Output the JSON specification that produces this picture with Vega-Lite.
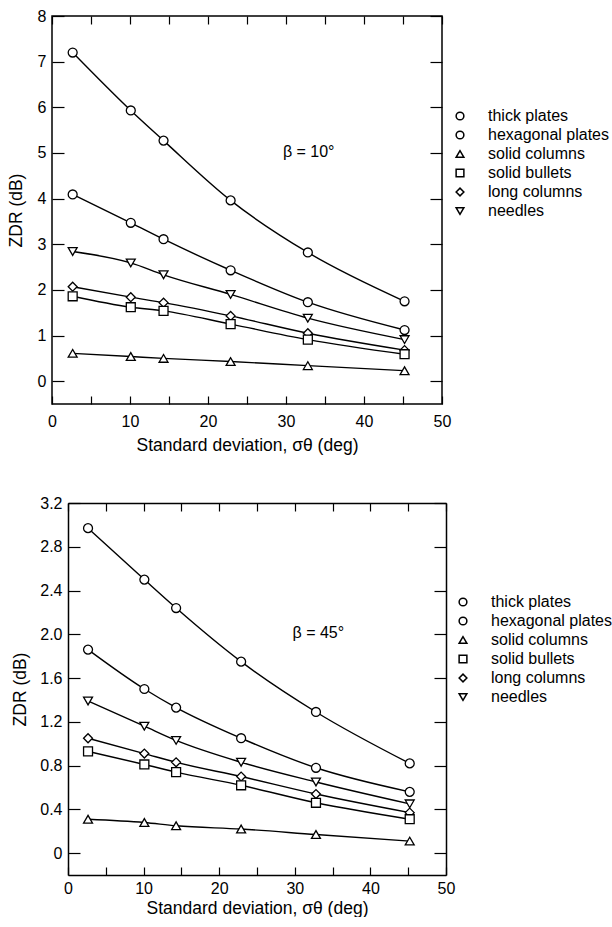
{
  "$schema": "https://vega.github.io/schema/vega-lite/v6.json",
  "padding": {"left": 6, "top": 7, "right": 0, "bottom": 0},
  "autosize": {"type": "pad"},
  "config": {
    "font": "Liberation Sans",
    "view": {"stroke": "black", "strokeWidth": 1.5},
    "axis": {"domain": false, "grid": false, "tickColor": "black", "tickWidth": 1.2, "labelColor": "black", "titleColor": "black", "labelFontSize": 16, "titleFontSize": 17.5, "titleFontWeight": "normal", "labelFlush": false, "labelOverlap": false},
    "legend": {"labelFontSize": 16, "labelColor": "black", "rowPadding": 3, "labelOffset": 20, "padding": 0},
    "text": {"color": "black"}
  },
  "concat": [
    {
      "width": 390,
      "height": 388,
      "data": {"values": [
        {"crystal": "thick plates", "sigma": 2.65, "zdr": 7.20},
        {"crystal": "thick plates", "sigma": 10.1, "zdr": 5.93},
        {"crystal": "thick plates", "sigma": 14.3, "zdr": 5.27},
        {"crystal": "thick plates", "sigma": 22.9, "zdr": 3.96},
        {"crystal": "thick plates", "sigma": 32.8, "zdr": 2.82},
        {"crystal": "thick plates", "sigma": 45.2, "zdr": 1.75},
        {"crystal": "hexagonal plates", "sigma": 2.65, "zdr": 4.09},
        {"crystal": "hexagonal plates", "sigma": 10.1, "zdr": 3.47},
        {"crystal": "hexagonal plates", "sigma": 14.3, "zdr": 3.11},
        {"crystal": "hexagonal plates", "sigma": 22.9, "zdr": 2.43},
        {"crystal": "hexagonal plates", "sigma": 32.8, "zdr": 1.73},
        {"crystal": "hexagonal plates", "sigma": 45.2, "zdr": 1.12},
        {"crystal": "needles", "sigma": 2.65, "zdr": 2.84},
        {"crystal": "needles", "sigma": 10.1, "zdr": 2.59},
        {"crystal": "needles", "sigma": 14.3, "zdr": 2.33},
        {"crystal": "needles", "sigma": 22.9, "zdr": 1.90},
        {"crystal": "needles", "sigma": 32.8, "zdr": 1.38},
        {"crystal": "needles", "sigma": 45.2, "zdr": 0.91},
        {"crystal": "long columns", "sigma": 2.65, "zdr": 2.07},
        {"crystal": "long columns", "sigma": 10.1, "zdr": 1.84},
        {"crystal": "long columns", "sigma": 14.3, "zdr": 1.72},
        {"crystal": "long columns", "sigma": 22.9, "zdr": 1.43},
        {"crystal": "long columns", "sigma": 32.8, "zdr": 1.05},
        {"crystal": "long columns", "sigma": 45.2, "zdr": 0.68},
        {"crystal": "solid bullets", "sigma": 2.65, "zdr": 1.86},
        {"crystal": "solid bullets", "sigma": 10.1, "zdr": 1.62},
        {"crystal": "solid bullets", "sigma": 14.3, "zdr": 1.54},
        {"crystal": "solid bullets", "sigma": 22.9, "zdr": 1.25},
        {"crystal": "solid bullets", "sigma": 32.8, "zdr": 0.91},
        {"crystal": "solid bullets", "sigma": 45.2, "zdr": 0.59},
        {"crystal": "solid columns", "sigma": 2.65, "zdr": 0.61},
        {"crystal": "solid columns", "sigma": 10.1, "zdr": 0.54},
        {"crystal": "solid columns", "sigma": 14.3, "zdr": 0.50},
        {"crystal": "solid columns", "sigma": 22.9, "zdr": 0.43},
        {"crystal": "solid columns", "sigma": 32.8, "zdr": 0.34},
        {"crystal": "solid columns", "sigma": 45.2, "zdr": 0.23}
      ]},
      "layer": [
        {
          "mark": {"type": "line", "interpolate": "monotone", "color": "black", "strokeWidth": 1.4},
          "encoding": {
            "x": {"field": "sigma", "type": "quantitative", "scale": {"domain": [0, 50], "nice": false},
              "axis": {"orient": "bottom", "values": [0, 5, 10, 15, 20, 25, 30, 35, 40, 45, 50], "labelExpr": "datum.value % 10 == 0 ? datum.label : ''", "tickSize": -8, "labelPadding": 17, "title": "Standard deviation, σθ (deg)", "titlePadding": 7}},
            "y": {"field": "zdr", "type": "quantitative", "scale": {"domain": [-0.5, 8], "nice": false, "zero": false},
              "axis": {"orient": "left", "values": [0, 1, 2, 3, 4, 5, 6, 7, 8], "tickSize": -12, "labelPadding": 18, "title": "ZDR (dB)", "titlePadding": 12}},
            "detail": {"field": "crystal"}
          }
        },
        {
          "mark": {"type": "point", "filled": true, "color": "white", "stroke": "black", "strokeWidth": 1.3, "size": 80, "opacity": 1},
          "encoding": {
            "x": {"field": "sigma", "type": "quantitative",
              "axis": {"orient": "top", "values": [0, 5, 10, 15, 20, 25, 30, 35, 40, 45, 50], "labels": false, "title": null, "tickSize": -8}},
            "y": {"field": "zdr", "type": "quantitative",
              "axis": {"orient": "right", "values": [0, 1, 2, 3, 4, 5, 6, 7, 8], "labels": false, "title": null, "tickSize": -12}},
            "shape": {"field": "crystal", "type": "nominal",
              "scale": {"domain": ["thick plates", "hexagonal plates", "solid columns", "solid bullets", "long columns", "needles"], "range": ["circle", "circle", "triangle-up", "square", "diamond", "triangle-down"]},
              "legend": {"orient": "none", "legendX": 400, "legendY": 92, "title": null, "symbolSize": 60,
                "encode": {"symbols": {"update": {"size": {"value": 60}, "stroke": {"value": "black"}, "fill": {"value": "white"}, "opacity": {"value": 1}, "strokeWidth": {"value": 2}, "x": {"value": 10}}}}}}
          }
        },
        {
          "data": {"values": [{"sigma": 29.6, "zdr": 5.03, "label": "β = 10°"}]},
          "mark": {"type": "text", "align": "left", "baseline": "middle", "fontSize": 16},
          "encoding": {
            "x": {"field": "sigma", "type": "quantitative", "axis": null},
            "y": {"field": "zdr", "type": "quantitative", "axis": null},
            "text": {"field": "label"}
          }
        }
      ],
      "resolve": {"axis": {"x": "independent", "y": "independent"}}
    },
    {
      "width": 394,
      "height": 372,
      "view": {"stroke": null},
      "data": {"values": [
        {"crystal": "thick plates", "sigma": 2.65, "zdr": 2.97},
        {"crystal": "thick plates", "sigma": 10.1, "zdr": 2.50},
        {"crystal": "thick plates", "sigma": 14.3, "zdr": 2.24},
        {"crystal": "thick plates", "sigma": 22.9, "zdr": 1.75},
        {"crystal": "thick plates", "sigma": 32.8, "zdr": 1.29},
        {"crystal": "thick plates", "sigma": 45.2, "zdr": 0.82},
        {"crystal": "hexagonal plates", "sigma": 2.65, "zdr": 1.86},
        {"crystal": "hexagonal plates", "sigma": 10.1, "zdr": 1.50},
        {"crystal": "hexagonal plates", "sigma": 14.3, "zdr": 1.33},
        {"crystal": "hexagonal plates", "sigma": 22.9, "zdr": 1.05},
        {"crystal": "hexagonal plates", "sigma": 32.8, "zdr": 0.78},
        {"crystal": "hexagonal plates", "sigma": 45.2, "zdr": 0.56},
        {"crystal": "needles", "sigma": 2.65, "zdr": 1.39},
        {"crystal": "needles", "sigma": 10.1, "zdr": 1.16},
        {"crystal": "needles", "sigma": 14.3, "zdr": 1.03},
        {"crystal": "needles", "sigma": 22.9, "zdr": 0.83},
        {"crystal": "needles", "sigma": 32.8, "zdr": 0.65},
        {"crystal": "needles", "sigma": 45.2, "zdr": 0.45},
        {"crystal": "long columns", "sigma": 2.65, "zdr": 1.05},
        {"crystal": "long columns", "sigma": 10.1, "zdr": 0.91},
        {"crystal": "long columns", "sigma": 14.3, "zdr": 0.83},
        {"crystal": "long columns", "sigma": 22.9, "zdr": 0.70},
        {"crystal": "long columns", "sigma": 32.8, "zdr": 0.54},
        {"crystal": "long columns", "sigma": 45.2, "zdr": 0.37},
        {"crystal": "solid bullets", "sigma": 2.65, "zdr": 0.93},
        {"crystal": "solid bullets", "sigma": 10.1, "zdr": 0.81},
        {"crystal": "solid bullets", "sigma": 14.3, "zdr": 0.74},
        {"crystal": "solid bullets", "sigma": 22.9, "zdr": 0.62},
        {"crystal": "solid bullets", "sigma": 32.8, "zdr": 0.46},
        {"crystal": "solid bullets", "sigma": 45.2, "zdr": 0.31},
        {"crystal": "solid columns", "sigma": 2.65, "zdr": 0.31},
        {"crystal": "solid columns", "sigma": 10.1, "zdr": 0.28},
        {"crystal": "solid columns", "sigma": 14.3, "zdr": 0.25},
        {"crystal": "solid columns", "sigma": 22.9, "zdr": 0.22},
        {"crystal": "solid columns", "sigma": 32.8, "zdr": 0.17},
        {"crystal": "solid columns", "sigma": 45.2, "zdr": 0.11}
      ]},
      "layer": [
        {
          "mark": {"type": "line", "interpolate": "monotone", "color": "black", "strokeWidth": 1.4},
          "encoding": {
            "x": {"field": "sigma", "type": "quantitative", "scale": {"domain": [0, 50], "nice": false, "range": [16, 394]},
              "axis": {"orient": "bottom", "values": [0, 5, 10, 15, 20, 25, 30, 35, 40, 45, 50], "labelExpr": "datum.value % 10 == 0 ? datum.label : ''", "tickSize": -8, "labelPadding": 13, "title": "Standard deviation, σθ (deg)", "titlePadding": 3, "domain": true, "domainColor": "black", "domainWidth": 1.5}},
            "y": {"field": "zdr", "type": "quantitative", "scale": {"domain": [-0.2, 3.2], "nice": false, "zero": false},
              "axis": {"orient": "left", "offset": -16, "values": [0, 0.4, 0.8, 1.2, 1.6, 2.0, 2.4, 2.8, 3.2], "labelExpr": "datum.value == 0 ? '0' : format(datum.value, '.1f')", "tickSize": -12, "labelPadding": 18, "title": "ZDR (dB)", "titlePadding": 10, "domain": true, "domainColor": "black", "domainWidth": 1.5}},
            "detail": {"field": "crystal"}
          }
        },
        {
          "mark": {"type": "point", "filled": true, "color": "white", "stroke": "black", "strokeWidth": 1.3, "size": 80, "opacity": 1},
          "encoding": {
            "x": {"field": "sigma", "type": "quantitative",
              "axis": {"orient": "top", "values": [0, 5, 10, 15, 20, 25, 30, 35, 40, 45, 50], "labels": false, "title": null, "tickSize": -8, "domain": true, "domainColor": "black", "domainWidth": 1.5}},
            "y": {"field": "zdr", "type": "quantitative",
              "axis": {"orient": "right", "values": [0, 0.4, 0.8, 1.2, 1.6, 2.0, 2.4, 2.8, 3.2], "labels": false, "title": null, "tickSize": -12, "domain": true, "domainColor": "black", "domainWidth": 1.5}},
            "shape": {"field": "crystal", "type": "nominal",
              "scale": {"domain": ["thick plates", "hexagonal plates", "solid columns", "solid bullets", "long columns", "needles"], "range": ["circle", "circle", "triangle-up", "square", "diamond", "triangle-down"]},
              "legend": {"orient": "none", "legendX": 403, "legendY": 91, "title": null, "symbolSize": 60,
                "encode": {"symbols": {"update": {"size": {"value": 60}, "stroke": {"value": "black"}, "fill": {"value": "white"}, "opacity": {"value": 1}, "strokeWidth": {"value": 2}, "x": {"value": 10}}}}}}
          }
        },
        {
          "data": {"values": [{"sigma": 29.7, "zdr": 2.01, "label": "β = 45°"}]},
          "mark": {"type": "text", "align": "left", "baseline": "middle", "fontSize": 16},
          "encoding": {
            "x": {"field": "sigma", "type": "quantitative", "axis": null},
            "y": {"field": "zdr", "type": "quantitative", "axis": null},
            "text": {"field": "label"}
          }
        }
      ],
      "resolve": {"axis": {"x": "independent", "y": "independent"}}
    }
  ],
  "columns": 1,
  "align": "none",
  "spacing": 40,
  "resolve": {"scale": {"x": "independent", "y": "independent", "shape": "independent"}, "legend": {"shape": "independent"}}
}
